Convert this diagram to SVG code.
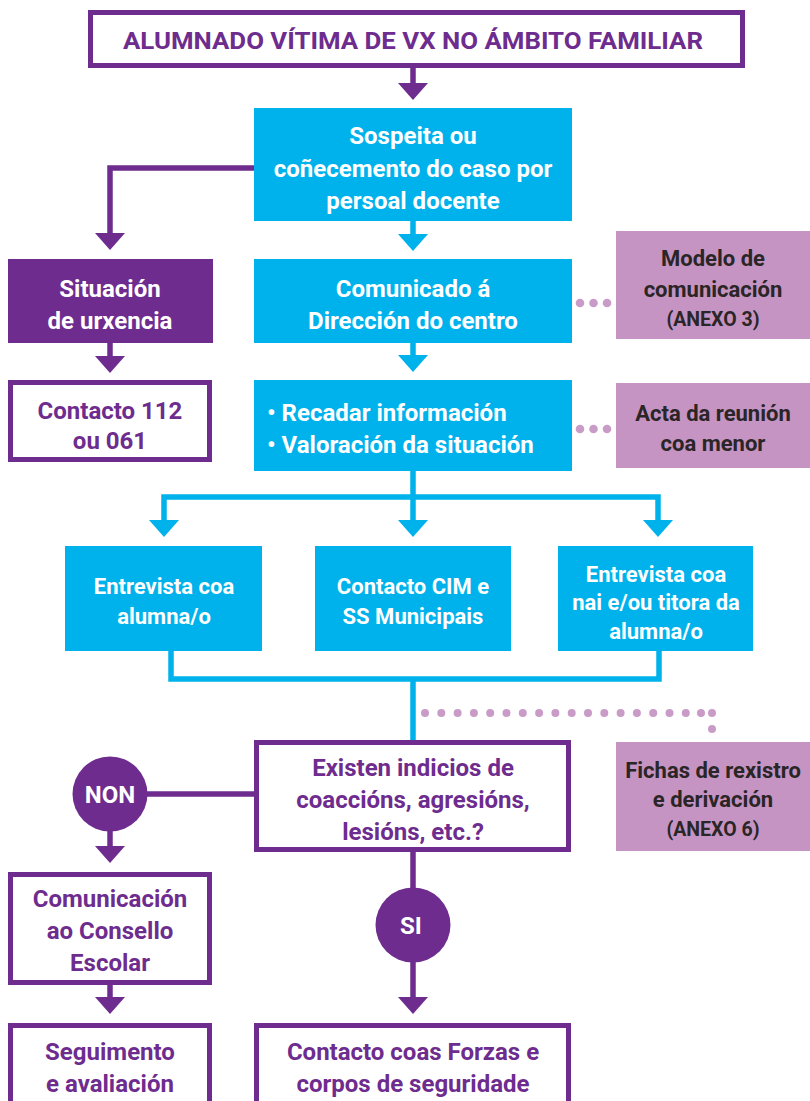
<svg xmlns="http://www.w3.org/2000/svg" width="810" height="1101" viewBox="0 0 810 1101">
<defs>
<style>
text{font-family:Roboto,"Liberation Sans",sans-serif;font-weight:700;text-anchor:middle}
.w{fill:#ffffff;font-size:24px}
.ws{fill:#ffffff;font-size:22px}
.p{fill:#6d2c8e;font-size:24px}
.d{fill:#2a2526;font-size:22px}
.ds{fill:#2a2526;font-size:19.5px}
.cy{fill:#00b2ec}
.pu{fill:#6d2c8e}
.lp{fill:#c594c2}
.ob{fill:#ffffff;stroke:#6d2c8e;stroke-width:5}
.lc{fill:none;stroke:#00b2ec;stroke-width:5.5}
.lpu{fill:none;stroke:#6d2c8e;stroke-width:5.5}
.dot{fill:#c99cc8}
</style>
<marker id="ap" viewBox="0 0 17 30" markerUnits="userSpaceOnUse" markerWidth="17" markerHeight="30" refX="9" refY="15" orient="auto"><path d="M0,0 L17,15 L0,30 Z" fill="#6d2c8e"/></marker>
<marker id="ac" viewBox="0 0 17 30" markerUnits="userSpaceOnUse" markerWidth="17" markerHeight="30" refX="9" refY="15" orient="auto"><path d="M0,0 L17,15 L0,30 Z" fill="#00b2ec"/></marker>
</defs>
<rect width="810" height="1101" fill="#ffffff"/>

<g id="connectors">
<path class="lpu" d="M413,68 V92" marker-end="url(#ap)"/>
<path class="lpu" d="M256,168 H110 V242" marker-end="url(#ap)"/>
<path class="lc" d="M413,221 V243" marker-end="url(#ac)"/>
<path class="lpu" d="M110,343 V365" marker-end="url(#ap)"/>
<path class="lc" d="M413,343 V364" marker-end="url(#ac)"/>
<path class="lc" d="M413,471 V529" marker-end="url(#ac)"/>
<path class="lc" d="M413,497 H164 V529" marker-end="url(#ac)"/>
<path class="lc" d="M413,497 H658 V529" marker-end="url(#ac)"/>
<path class="lc" d="M171,651 V679 H659 V651"/>
<path class="lc" d="M413,679 V741"/>
<path class="lpu" d="M254,794 H110"/>
<path class="lpu" d="M110,830 V855" marker-end="url(#ap)"/>
<path class="lpu" d="M110,985 V1006" marker-end="url(#ap)"/>
<path class="lpu" d="M413,852 V900"/>
<path class="lpu" d="M413,950 V1006" marker-end="url(#ap)"/>
<g id="dots">
<circle class="dot" cx="580" cy="303" r="4.3"/><circle class="dot" cx="593.5" cy="303" r="4.3"/><circle class="dot" cx="607" cy="303" r="4.3"/>
<circle class="dot" cx="580" cy="429" r="4.3"/><circle class="dot" cx="593.5" cy="429" r="4.3"/><circle class="dot" cx="607" cy="429" r="4.3"/>
<circle class="dot" cx="425" cy="713" r="4"/><circle class="dot" cx="441.3" cy="713" r="4"/><circle class="dot" cx="457.6" cy="713" r="4"/><circle class="dot" cx="473.9" cy="713" r="4"/><circle class="dot" cx="490.2" cy="713" r="4"/><circle class="dot" cx="506.5" cy="713" r="4"/><circle class="dot" cx="522.8" cy="713" r="4"/><circle class="dot" cx="539.1" cy="713" r="4"/><circle class="dot" cx="555.4" cy="713" r="4"/><circle class="dot" cx="571.7" cy="713" r="4"/><circle class="dot" cx="588" cy="713" r="4"/><circle class="dot" cx="604.3" cy="713" r="4"/><circle class="dot" cx="620.6" cy="713" r="4"/><circle class="dot" cx="636.9" cy="713" r="4"/><circle class="dot" cx="653.2" cy="713" r="4"/><circle class="dot" cx="669.5" cy="713" r="4"/><circle class="dot" cx="685.8" cy="713" r="4"/><circle class="dot" cx="701" cy="713" r="4"/><circle class="dot" cx="712" cy="713" r="4"/><circle class="dot" cx="712" cy="729" r="4"/>
</g>
</g>

<g id="title">
<rect class="ob" x="90.5" y="12.5" width="652" height="53"/>
<text class="p" x="413" y="49" textLength="580" lengthAdjust="spacingAndGlyphs">ALUMNADO VÍTIMA DE VX NO ÁMBITO FAMILIAR</text>
</g>

<g id="sospeita">
<rect class="cy" x="254" y="108" width="318" height="113"/>
<text class="w" x="413" y="143.5">Sospeita ou</text>
<text class="w" x="413" y="176.5">coñecemento do caso por</text>
<text class="w" x="413" y="208.5">persoal docente</text>
</g>

<g id="urxencia">
<rect class="pu" x="8" y="259" width="205" height="84"/>
<text class="w" x="110" y="296.5">Situación</text>
<text class="w" x="110" y="328.5">de urxencia</text>
</g>

<g id="comunicado">
<rect class="cy" x="254" y="259" width="318" height="84"/>
<text class="w" x="413" y="296.5">Comunicado á</text>
<text class="w" x="413" y="328.5">Dirección do centro</text>
</g>

<g id="modelo">
<rect class="lp" x="616" y="231" width="194" height="108"/>
<text class="d" x="713" y="265.5">Modelo de</text>
<text class="d" x="713" y="296.5">comunicación</text>
<text class="ds" x="713" y="326">(ANEXO 3)</text>
</g>

<g id="contacto112">
<rect class="ob" x="10.5" y="382.5" width="199" height="77"/>
<text class="p" x="110" y="418.5">Contacto 112</text>
<text class="p" x="110" y="448.5">ou 061</text>
</g>

<g id="recadar">
<rect class="cy" x="254" y="380" width="318" height="91"/>
<text class="w" x="267" y="420.5" style="text-anchor:start">• Recadar información</text>
<text class="w" x="267" y="452.5" style="text-anchor:start">• Valoración da situación</text>
</g>

<g id="acta">
<rect class="lp" x="616" y="383" width="194" height="85"/>
<text class="d" x="713" y="420.5">Acta da reunión</text>
<text class="d" x="713" y="450.5">coa menor</text>
</g>

<g id="entrevista1">
<rect class="cy" x="65" y="546" width="197" height="105"/>
<text class="ws" x="164" y="593.5">Entrevista coa</text>
<text class="ws" x="164" y="623.5">alumna/o</text>
</g>

<g id="cim">
<rect class="cy" x="315" y="546" width="196" height="105"/>
<text class="ws" x="413" y="593.5">Contacto CIM e</text>
<text class="ws" x="413" y="623.5">SS Municipais</text>
</g>

<g id="entrevista2">
<rect class="cy" x="558" y="546" width="195" height="105"/>
<text class="ws" x="656" y="581.5">Entrevista coa</text>
<text class="ws" x="656" y="609.5">nai e/ou titora da</text>
<text class="ws" x="656" y="638.5">alumna/o</text>
</g>

<g id="fichas">
<rect class="lp" x="616" y="742" width="194" height="109"/>
<text class="d" x="713" y="777.5">Fichas de rexistro</text>
<text class="d" x="713" y="806.5">e derivación</text>
<text class="ds" x="713" y="836">(ANEXO 6)</text>
</g>

<g id="decision">
<rect class="ob" x="256.5" y="742.5" width="312" height="107"/>
<text class="p" x="413" y="775.5">Existen indicios de</text>
<text class="p" x="413" y="807.5">coaccións, agresións,</text>
<text class="p" x="413" y="839.5">lesións, etc.?</text>
</g>

<g id="non">
<circle class="pu" cx="110" cy="794" r="37.5"/>
<text class="w" x="110" y="803">NON</text>
</g>

<g id="si">
<circle class="pu" cx="413" cy="925" r="37.5"/>
<text class="w" x="411" y="933.5">SI</text>
</g>

<g id="consello">
<rect class="ob" x="10.5" y="874.5" width="199" height="108"/>
<text class="p" x="110" y="906.5">Comunicación</text>
<text class="p" x="110" y="938.5">ao Consello</text>
<text class="p" x="110" y="970.5">Escolar</text>
</g>

<g id="seguimento">
<rect class="ob" x="10.5" y="1025.5" width="199" height="100"/>
<text class="p" x="110" y="1059.5">Seguimento</text>
<text class="p" x="110" y="1091.5">e avaliación</text>
</g>

<g id="forzas">
<rect class="ob" x="256.5" y="1025.5" width="312" height="100"/>
<text class="p" x="413" y="1059.5">Contacto coas Forzas e</text>
<text class="p" x="413" y="1091.5">corpos de seguridade</text>
</g>
</svg>
